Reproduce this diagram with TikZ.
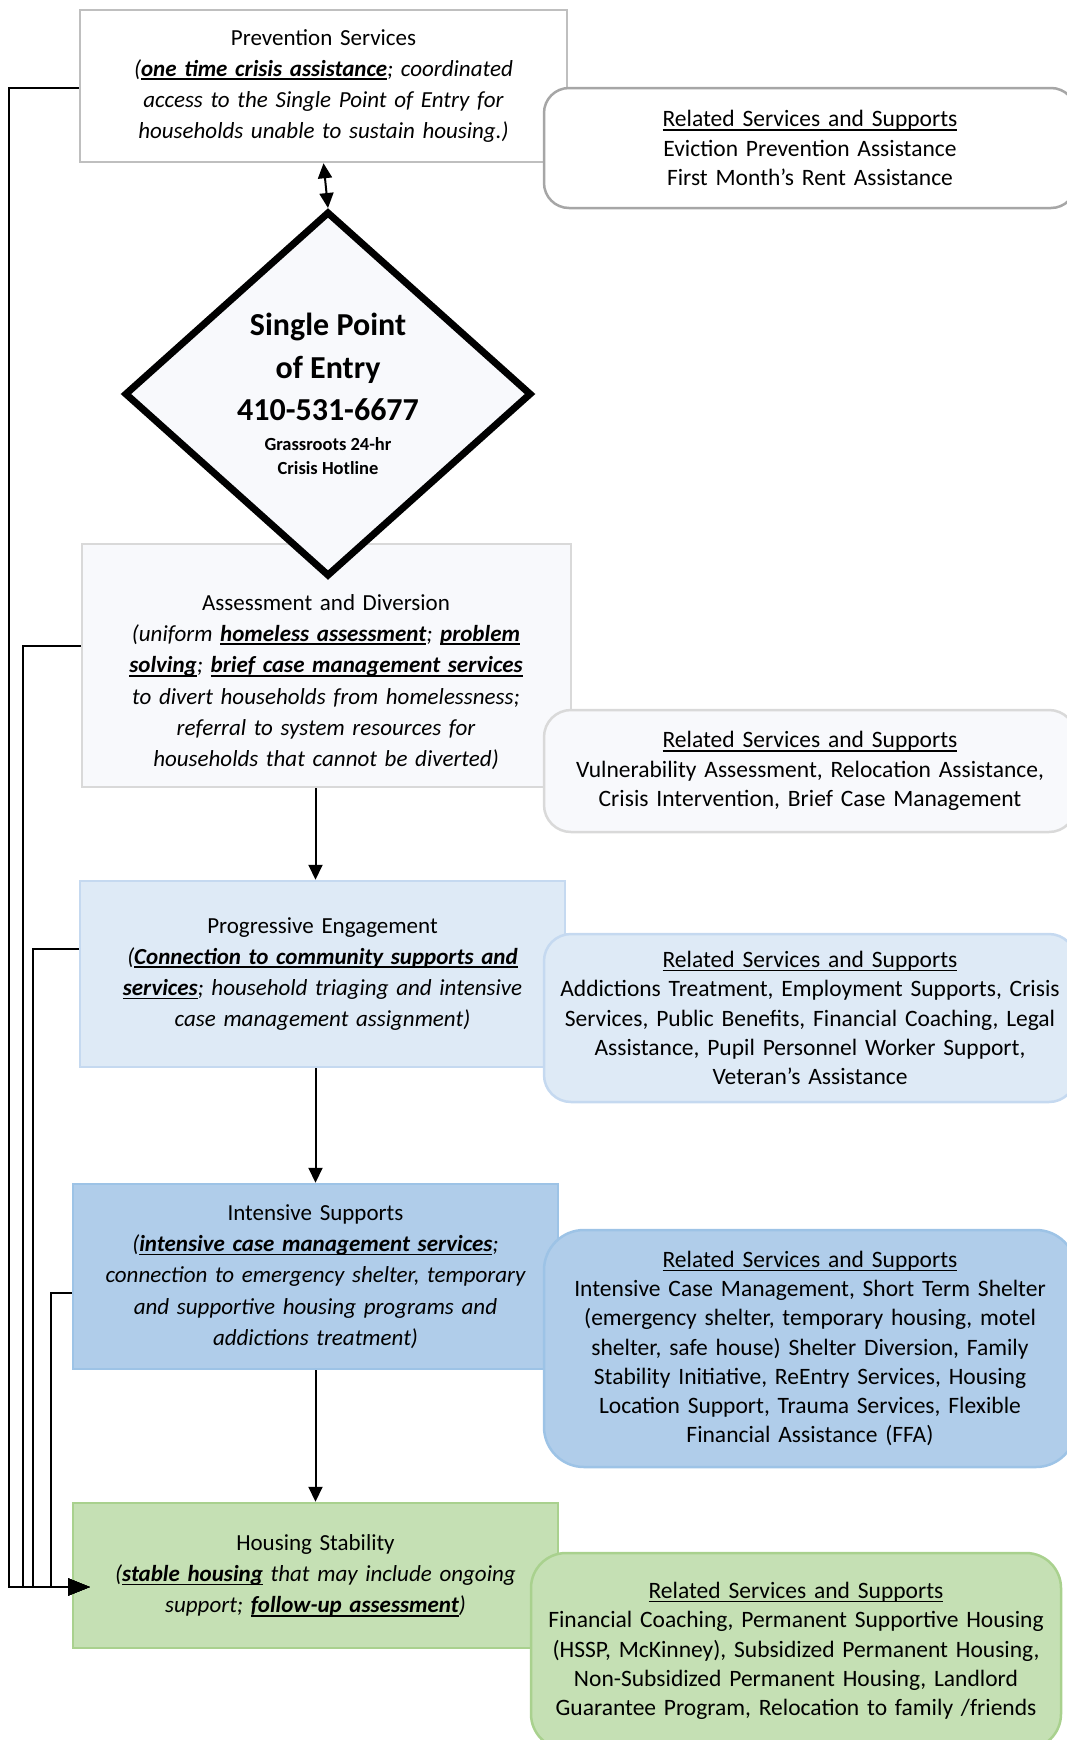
\documentclass[tikz,border=0pt]{standalone}
\usepackage{fontspec}
\setmainfont{Carlito}
\usetikzlibrary{arrows.meta,shapes.geometric}

\definecolor{prevline}{HTML}{BFBFBF}
\definecolor{relline}{HTML}{A6A6A6}
\definecolor{palefill}{HTML}{F8F9FC}
\definecolor{paleline}{HTML}{D9D9D9}
\definecolor{progfill}{HTML}{DEEAF6}
\definecolor{progline}{HTML}{C5D9F0}
\definecolor{intfill}{HTML}{B0CDEA}
\definecolor{intline}{HTML}{9DC3E6}
\definecolor{housfill}{HTML}{C5E0B4}
\definecolor{housline}{HTML}{A9D18E}

\newsavebox{\ulbox}
\newcommand{\ulbf}[1]{\leavevmode\sbox{\ulbox}{\bfseries #1}\rlap{\rule[-3.8pt]{\wd\ulbox}{1.8pt}}\usebox{\ulbox}}
\newcommand{\ulrm}[1]{\leavevmode\sbox{\ulbox}{#1}\rlap{\rule[-3.8pt]{\wd\ulbox}{1.4pt}}\usebox{\ulbox}}

\begin{document}
\begin{tikzpicture}[
    x = 1pt,
    y = -1pt,
    >={Triangle[length=15pt,width=14pt]},
    stage/.style = {
      rectangle,
      line width = 2.5pt,
      inner sep = 0pt,
      align = center,
      text width = 470pt,
      font = \fontsize{23}{31.3}\selectfont
    },
    related/.style = {
      rectangle,
      draw,
      line width = 2.5pt,
      inner sep = 0pt,
      minimum width = 532pt,
      align = center,
      text width = 520pt,
      font = \fontsize{23.5}{29.3}\selectfont
    },
    flow/.style = {line width = 2pt, ->},
    back/.style = {line width = 2pt, -{Triangle[length=22pt,width=17pt]}}
  ]
  \useasboundingbox (0,0) rectangle (1067,1740);
  \clip (0,0) rectangle (1067,1740);

  \node[stage, draw=prevline, fill=white, minimum width=487pt, minimum height=152pt] (prev) at (323.5,86)
    {Prevention Services\\ \itshape(\ulbf{one time crisis assistance}; coordinated\\ access to the Single Point of Entry for\\ households unable to sustain housing.)};
  \node[stage, draw=paleline, fill=palefill, minimum width=489pt, minimum height=243pt] (assess) at (326.5,665.5) {};
  \node[stage, draw=progline, fill=progfill, minimum width=485pt, minimum height=186pt] (prog) at (322.5,974)
    {Progressive Engagement\\ \itshape(\ulbf{Connection to community supports and}\\ \ulbf{services}; household triaging and intensive\\ case management assignment)};
  \node[stage, draw=intline, fill=intfill, minimum width=485pt, minimum height=185pt] (inten) at (315.5,1276.5)
    {Intensive Supports\\ \itshape(\ulbf{intensive case management services};\\ connection to emergency shelter, temporary\\ and supportive housing programs and\\ addictions treatment)};
  \node[stage, draw=housline, fill=housfill, minimum width=485pt, minimum height=145pt] (hous) at (315.5,1575.5)
    {Housing Stability\\ \itshape(\ulbf{stable housing} that may include ongoing\\ support; \ulbf{follow-up assessment})};

  \node[diamond, draw, line width=7pt, fill=palefill, inner sep=0pt,
        minimum width=407pt, minimum height=365pt, align=center,
        font=\bfseries\fontsize{32}{42.5}\selectfont] (spoe) at (328,394)
    {Single Point\\ of Entry\\ 410-531-6677\\[-12.5pt]
     {\fontsize{18.5}{22}\selectfont Grassroots 24-hr}\\[-18.5pt]
     {\fontsize{18.5}{22}\selectfont Crisis Hotline}};

  \node[stage] (assesstext) at (326,682)
    {Assessment and Diversion\\ \itshape(uniform \ulbf{homeless assessment}; \ulbf{problem}\\ \ulbf{solving}; \ulbf{brief case management services}\\ to divert households from homelessness;\\ referral to system resources for\\ households that cannot be diverted)};

  \node[related, fill=white, draw=relline, rounded corners=25pt, minimum height=120pt] (prevrel) at (810,148)
    {\ulrm{Related Services and Supports}\\ Eviction Prevention Assistance\\ First Month’s Rent Assistance};
  \node[related, fill=palefill, draw=paleline, rounded corners=27pt, minimum height=122pt] (assessrel) at (810,771)
    {\ulrm{Related Services and Supports}\\ Vulnerability Assessment, Relocation Assistance,\\ Crisis Intervention, Brief Case Management};
  \node[related, fill=progfill, draw=progline, rounded corners=27pt, minimum height=168pt] (progrel) at (810,1018)
    {\ulrm{Related Services and Supports}\\ Addictions Treatment, Employment Supports, Crisis\\ Services, Public Benefits, Financial Coaching, Legal\\ Assistance, Pupil Personnel Worker Support,\\ Veteran’s Assistance};
  \node[related, fill=intfill, draw=intline, rounded corners=40pt, minimum height=237pt] (intenrel) at (810,1348.5)
    {\ulrm{Related Services and Supports}\\ Intensive Case Management, Short Term Shelter\\ (emergency shelter, temporary housing, motel\\ shelter, safe house) Shelter Diversion, Family\\ Stability Initiative, ReEntry Services, Housing\\ Location Support, Trauma Services, Flexible\\ Financial Assistance (FFA)};
  \node[related, fill=housfill, draw=housline, rounded corners=35pt, minimum width=530pt, minimum height=196pt] (housrel) at (796,1651)
    {\ulrm{Related Services and Supports}\\ Financial Coaching, Permanent Supportive Housing\\ (HSSP, McKinney), Subsidized Permanent Housing,\\ Non-Subsidized Permanent Housing, Landlord\\ Guarantee Program, Relocation to family /friends};

  \draw[<->, line width=2pt] (prev.south) -- (spoe.north);
  \draw[flow] (assess.south -| inten.north) -- (prog.north -| inten.north);
  \draw[flow] (prog.south -| inten.north) -- (inten.north);
  \draw[flow] (inten.south) -- (hous.north);

  % lines back to housing stability
  \coordinate (housin) at (90,1587);
  \draw[back] ([yshift=-2pt]prev.west) -- ++(-70,0) |- (housin);
  \draw[back] ([yshift=20pt]assess.west) -- ++(-58,0) |- (housin);
  \draw[back] ([yshift=25pt]prog.west) -- ++(-46,0) |- (housin);
  \draw[back] ([yshift=-16pt]inten.west) -- ++(-21,0) |- (housin);

\end{tikzpicture}
\end{document}
